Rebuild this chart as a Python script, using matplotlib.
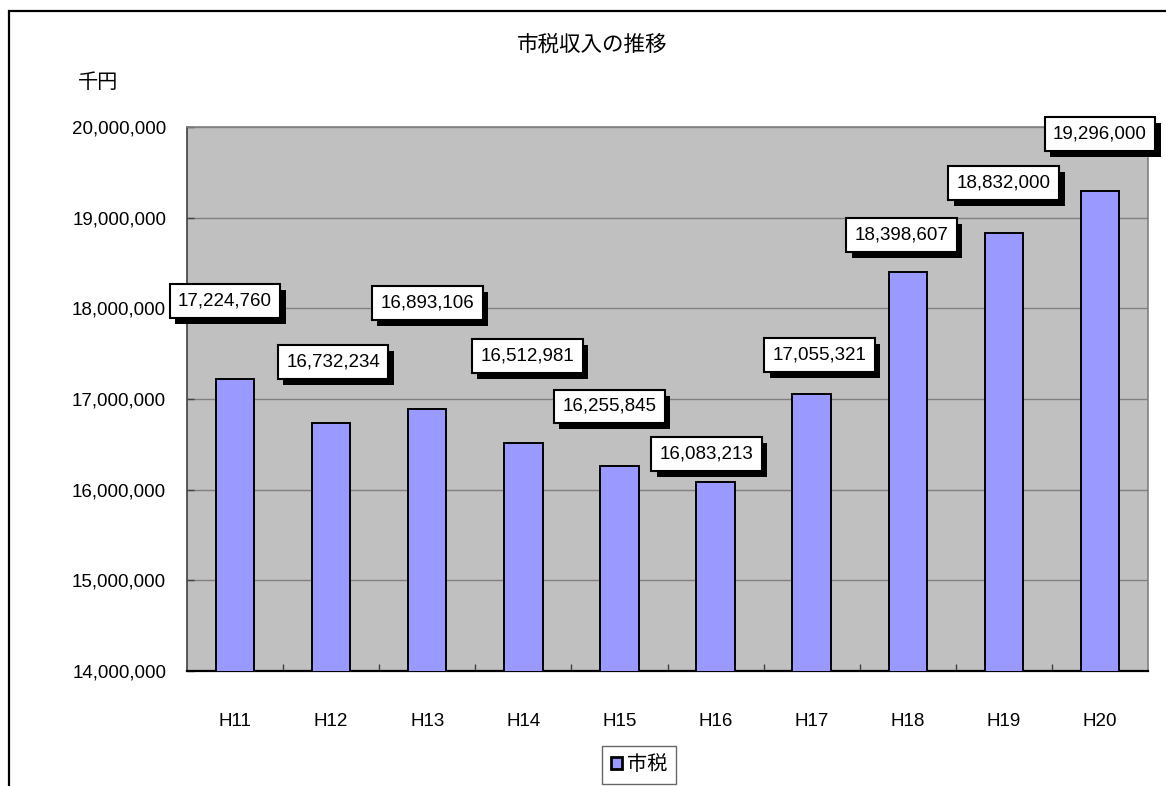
import matplotlib.pyplot as plt
import matplotlib.patheffects as pe
from matplotlib.patches import Rectangle
from matplotlib.ticker import FuncFormatter, MultipleLocator

plt.rcParams['font.family'] = ['Liberation Sans', 'Noto Sans CJK JP']

years = ['H11', 'H12', 'H13', 'H14', 'H15', 'H16', 'H17', 'H18', 'H19', 'H20']
tax = [17224760, 16732234, 16893106, 16512981, 16255845,
       16083213, 17055321, 18398607, 18832000, 19296000]

# label box offsets from bar top (pixels), labels were hand-placed in the original
lab_dx = [-10, 2, 0, 4, -10, -9, 8, -6, 0, 0]
lab_dy = [78, 61, 106, 87, 60, 28, 39, 37, 50, 57]

W, H = 1166, 786
fig = plt.figure(figsize=(W / 100, H / 100), dpi=100)
ax = fig.add_axes([187 / W, 1 - 671 / H, (1148 - 187) / W, (671 - 127) / H])

# outer frame (runs off the right and bottom edges)
fig.patches.append(Rectangle((9 / W, -0.05), 1.2, 1 - 11 / H + 0.05,
                             transform=fig.transFigure, fill=False,
                             edgecolor='black', linewidth=1.6, zorder=0))

ax.set_facecolor('#C0C0C0')
x = range(len(years))
ax.bar(x, tax, width=0.4, color='#9999FF', edgecolor='black',
       linewidth=1.4, zorder=3, label='市税')

ax.set_xlim(-0.5, len(years) - 0.5)
ax.set_ylim(14000000, 20000000)
ax.yaxis.set_major_locator(MultipleLocator(1000000))
ax.yaxis.set_major_formatter(FuncFormatter(lambda v, p: f'{int(v):,}'))
ax.grid(axis='y', color='#808080', linewidth=1.0, zorder=1)
ax.set_xticks(list(x))
ax.set_xticklabels(years)
ax.set_xticks([i + 0.5 for i in range(len(years) - 1)], minor=True)
ax.tick_params(axis='x', which='major', length=0, pad=30, labelsize=13.5)
ax.tick_params(axis='x', which='minor', direction='in', length=5,
               width=1, color='#404040')
ax.tick_params(axis='y', direction='in', length=5, width=1, color='#404040',
               pad=15, labelsize=13.5)

for s in ['top', 'right']:
    ax.spines[s].set_color('#808080')
    ax.spines[s].set_linewidth(1.2)
ax.spines['left'].set_color('#404040')
ax.spines['left'].set_linewidth(1.2)
ax.spines['bottom'].set_color('black')
ax.spines['bottom'].set_linewidth(1.6)

shadow = [pe.SimplePatchShadow(offset=(3.8, -4.3), shadow_rgbFace='black',
                               alpha=1.0), pe.Normal()]
for i, v in enumerate(tax):
    ann = ax.annotate(f'{v:,}', xy=(i, v), xytext=(lab_dx[i], lab_dy[i]),
                      textcoords='offset pixels', ha='center', va='center',
                      fontsize=13.5, color='black', zorder=6,
                      annotation_clip=False,
                      bbox=dict(boxstyle='square,pad=0.45', fc='white',
                                ec='black', lw=1.5))
    ann.get_bbox_patch().set_path_effects(shadow)

fig.text(592 / W, 1 - 45 / H, '市税収入の推移', ha='center', va='center',
         fontsize=15.5)
fig.text(98 / W, 1 - 83 / H, '千円', ha='center', va='center', fontsize=14.5)

leg = fig.legend(loc='center', bbox_to_anchor=(639 / W, 1 - 765 / H),
                 frameon=True, fancybox=False, fontsize=14.5,
                 handlelength=0.55, handleheight=0.55, handletextpad=0.25,
                 borderpad=0.45, edgecolor='#404040')
leg.get_frame().set_linewidth(1.0)
for h in leg.legend_handles:
    h.set_linewidth(2.0)

fig.savefig('out.png', dpi=100)
